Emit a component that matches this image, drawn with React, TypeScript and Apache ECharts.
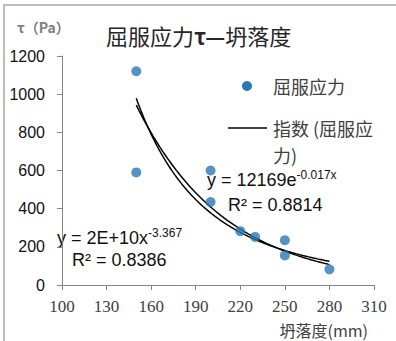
import React, { useEffect, useRef } from "react";
import * as echarts from "echarts";

// Slump (mm) vs. yield stress τ (Pa)
const slump = [150, 150, 200, 200, 220, 230, 250, 250, 280];
const yieldStress = [1120, 590, 600, 435, 282, 252, 235, 155, 82];

// Trend line equations as printed on the chart
const expLabel = { main: "y = 12169e", sup: "-0.017x", r2: "R² = 0.8814" };
const powLabel = { main: "y = 2E+10x", sup: "-3.367", r2: "R² = 0.8386" };

const xTicks = { min: 100, max: 310, interval: 30 };
const yTicks = { min: 0, max: 1200, interval: 200 };

const seriesName = "屈服应力";
const trendName = "指数 (屈服应力)";

// Least-squares fit of ln(y) against g(x): returns [lnA, b]
function logFit(xs: number[], ys: number[], g: (x: number) => number): [number, number] {
  const u = xs.map(g);
  const v = ys.map((y) => Math.log(y));
  const n = u.length;
  const mu = u.reduce((s, t) => s + t, 0) / n;
  const mv = v.reduce((s, t) => s + t, 0) / n;
  let sxy = 0;
  let sxx = 0;
  for (let i = 0; i < n; i++) {
    sxy += (u[i] - mu) * (v[i] - mv);
    sxx += (u[i] - mu) * (u[i] - mu);
  }
  const b = sxy / sxx;
  return [mv - b * mu, b];
}

function curve(f: (x: number) => number, from: number, to: number): number[][] {
  const pts: number[][] = [];
  for (let x = from; x <= to; x += 1) pts.push([x, f(x)]);
  return pts;
}

export default function App() {
  const ref = useRef<HTMLDivElement>(null);

  useEffect(() => {
    if (!ref.current) return;
    const chart = echarts.init(ref.current, null, { renderer: "svg" });
    const pts = slump.map((x, i) => [x, yieldStress[i]]);
    const xMin = Math.min(...slump);
    const xMax = Math.max(...slump);

    // exponential trend: y = A·e^(b·x)
    const [lnAe, be] = logFit(slump, yieldStress, (x) => x);
    // power trend: y = A·x^b
    const [lnAp, bp] = logFit(slump, yieldStress, (x) => Math.log(x));
    const expLine = curve((x) => Math.exp(lnAe + be * x), xMin, xMax);
    const powLine = curve((x) => Math.exp(lnAp + bp * Math.log(x)), xMin, xMax);

    const eqFont = "'Liberation Sans', Arial, sans-serif";
    const cjk = "'Noto Sans CJK SC', sans-serif";
    const eqRich = {
      m: { fontSize: 18, fontFamily: eqFont, fill: "#111111" },
      s: {
        fontSize: 12,
        fontFamily: eqFont,
        fill: "#111111",
        verticalAlign: "top",
        padding: [0, 0, 10, 0],
      },
    };

    chart.setOption({
      animation: false,
      backgroundColor: "#ffffff",
      grid: { left: 62, right: 22, top: 56, bottom: 56 },
      xAxis: {
        type: "value",
        min: xTicks.min,
        max: xTicks.max,
        interval: xTicks.interval,
        axisLine: { show: true, lineStyle: { color: "#868686", width: 1 } },
        axisTick: { show: true, length: 5, lineStyle: { color: "#868686" } },
        splitLine: { show: false },
        axisLabel: {
          margin: 13,
          color: "#404040",
          fontSize: 17,
          fontFamily: "'Liberation Serif', 'Times New Roman', serif",
        },
      },
      yAxis: {
        type: "value",
        min: yTicks.min,
        max: yTicks.max,
        interval: yTicks.interval,
        axisLine: { show: true, lineStyle: { color: "#868686", width: 1 } },
        axisTick: { show: true, length: 5, lineStyle: { color: "#868686" } },
        splitLine: { show: false },
        axisLabel: {
          margin: 17,
          color: "#111111",
          fontSize: 16,
          fontFamily: eqFont,
          formatter: (v: number) => String(v),
        },
      },
      series: [
        {
          name: trendName,
          type: "line",
          data: expLine,
          showSymbol: false,
          lineStyle: { color: "#000000", width: 1.5 },
          z: 2,
        },
        {
          name: "乘幂 (屈服应力)",
          type: "line",
          data: powLine,
          showSymbol: false,
          lineStyle: { color: "#000000", width: 1.5 },
          z: 2,
        },
        {
          name: seriesName,
          type: "scatter",
          data: pts,
          symbolSize: 10,
          itemStyle: { color: "#2B78B9" },
          z: 3,
        },
      ],
      graphic: [
        {
          type: "rect",
          shape: { x: 4, y: 5, width: 600, height: 600 },
          style: { fill: "none", stroke: "#a6a6a6", lineWidth: 1.5 },
          silent: true,
        },
        {
          type: "text",
          x: 106,
          y: 35,
          style: {
            text: "{a|屈服应力}{b|τ—}{a|坍落度}",
            verticalAlign: "middle",
            rich: {
              a: { fontSize: 22, fontFamily: cjk, fill: "#262626" },
              b: { fontSize: 22, fontFamily: cjk, fontWeight: "bold", fill: "#262626" },
            },
          },
        },
        {
          type: "text",
          x: 17,
          y: 27,
          style: {
            text: "τ（Pa）",
            verticalAlign: "middle",
            fontSize: 14,
            fontWeight: "bold",
            fontFamily: cjk,
            fill: "#7f7f7f",
          },
        },
        {
          type: "text",
          x: 368,
          y: 330,
          style: {
            text: "坍落度(mm)",
            align: "right",
            verticalAlign: "middle",
            fontSize: 16,
            fontFamily: cjk,
            fill: "#404040",
          },
        },
        // legend
        {
          type: "circle",
          shape: { cx: 247, cy: 86, r: 5 },
          style: { fill: "#2B78B9" },
        },
        {
          type: "text",
          x: 273,
          y: 86,
          style: {
            text: seriesName,
            verticalAlign: "middle",
            fontSize: 18,
            fontFamily: cjk,
            fill: "#404040",
          },
        },
        {
          type: "line",
          shape: { x1: 228, y1: 128, x2: 267, y2: 128 },
          style: { stroke: "#000000", lineWidth: 1.5 },
        },
        {
          type: "text",
          x: 273,
          y: 114,
          style: {
            text: "指数 (屈服应\n力)",
            verticalAlign: "top",
            fontSize: 18,
            lineHeight: 27,
            fontFamily: cjk,
            fill: "#404040",
          },
        },
        // trend line equations
        {
          type: "text",
          x: 207,
          y: 180,
          style: {
            text: `{m|${expLabel.main}}{s|${expLabel.sup}}`,
            verticalAlign: "middle",
            rich: eqRich,
          },
        },
        {
          type: "text",
          x: 228,
          y: 205,
          style: {
            text: expLabel.r2,
            verticalAlign: "middle",
            fontSize: 18,
            fontFamily: eqFont,
            fill: "#111111",
          },
        },
        {
          type: "text",
          x: 57,
          y: 238,
          style: {
            text: `{m|${powLabel.main}}{s|${powLabel.sup}}`,
            verticalAlign: "middle",
            rich: eqRich,
          },
        },
        {
          type: "text",
          x: 72,
          y: 260,
          style: {
            text: powLabel.r2,
            verticalAlign: "middle",
            fontSize: 18,
            fontFamily: eqFont,
            fill: "#111111",
          },
        },
      ],
    });
    return () => chart.dispose();
  }, []);

  return (
    <div
      ref={ref}
      style={{ position: "absolute", left: 0, top: 0, width: 396, height: 341 }}
    />
  );
}
